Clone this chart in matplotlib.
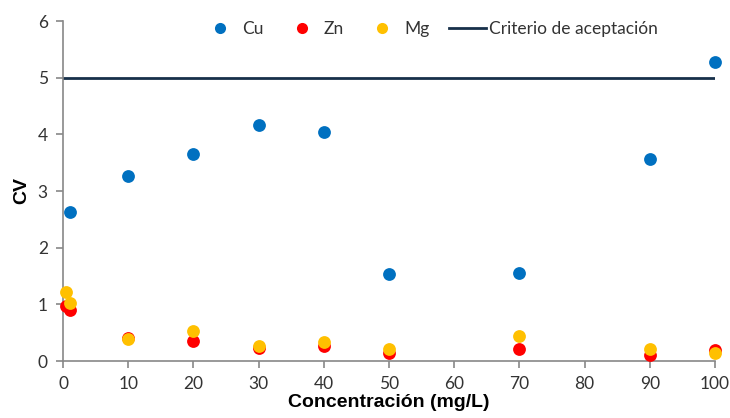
import matplotlib
matplotlib.use("Agg")
import matplotlib.pyplot as plt
from matplotlib.lines import Line2D

# Concentration levels (mg/L) and coefficient of variation per element
cu_x = [1, 10, 20, 30, 40, 50, 70, 90, 100]
cu_cv = [2.63, 3.27, 3.66, 4.16, 4.05, 1.53, 1.55, 3.57, 5.28]

zn_x = [0.5, 1, 10, 20, 30, 40, 50, 70, 90, 100]
zn_cv = [0.97, 0.90, 0.40, 0.35, 0.23, 0.26, 0.15, 0.22, 0.10, 0.19]

mg_x = [0.5, 1, 10, 20, 30, 40, 50, 70, 90, 100]
mg_cv = [1.21, 1.02, 0.39, 0.53, 0.26, 0.34, 0.22, 0.44, 0.22, 0.15]

limit_x = [0, 100]
limit_cv = [5, 5]

x_ticks = [0, 10, 20, 30, 40, 50, 60, 70, 80, 90, 100]
y_ticks = [0, 1, 2, 3, 4, 5, 6]

fig = plt.figure(figsize=(7.3, 4.18), dpi=100)
ax = fig.add_axes([63 / 730, 57 / 418, 652 / 730, 340 / 418])

ax.plot(limit_x, limit_cv, color="#17304A", lw=2.0, zorder=2)
ax.scatter(cu_x, cu_cv, s=85, color="#0070C0", zorder=3, linewidths=0)
ax.scatter(zn_x, zn_cv, s=85, color="#FF0000", zorder=3, linewidths=0)
ax.scatter(mg_x, mg_cv, s=85, color="#FFC000", zorder=4, linewidths=0)

ax.set_xlim(0, 100)
ax.set_ylim(0, 6)
ax.set_xticks(x_ticks)
ax.set_yticks(y_ticks)

tick_font = "Lato"
for lab in ax.get_xticklabels() + ax.get_yticklabels():
    lab.set_fontfamily(tick_font)
    lab.set_fontsize(12.5)
    lab.set_color("#333333")

for side in ("top", "right"):
    ax.spines[side].set_visible(False)
for side in ("left", "bottom"):
    ax.spines[side].set_color("#888888")
    ax.spines[side].set_linewidth(1.2)
ax.tick_params(axis="both", direction="out", length=5, width=1.2, color="#888888")
ax.tick_params(axis="x", pad=6)
ax.tick_params(axis="y", pad=6)
for c in ax.collections:
    c.set_clip_on(False)

ax.set_xlabel("Concentración (mg/L)", fontfamily="Liberation Sans",
              fontweight="bold", fontsize=14, labelpad=1)
ax.set_ylabel("CV", fontfamily="Liberation Sans", fontweight="bold",
              fontsize=14, labelpad=5)

handles = [
    Line2D([], [], ls="", marker="o", ms=8, color="#0070C0", mec="none"),
    Line2D([], [], ls="", marker="o", ms=8, color="#FF0000", mec="none"),
    Line2D([], [], ls="", marker="o", ms=8, color="#FFC000", mec="none"),
    Line2D([], [], color="#17304A", lw=2.0),
]
labels = ["Cu", "Zn", "Mg", "Criterio de aceptación"]
leg = ax.legend(handles, labels, loc="upper center", bbox_to_anchor=(0.563, 1.045),
                ncol=4, frameon=False, prop={"family": tick_font, "size": 12.5},
                handlelength=2.13, columnspacing=1.15, handletextpad=0.18)
for t in leg.get_texts():
    t.set_color("#333333")

fig.savefig("out.png", dpi=100)
